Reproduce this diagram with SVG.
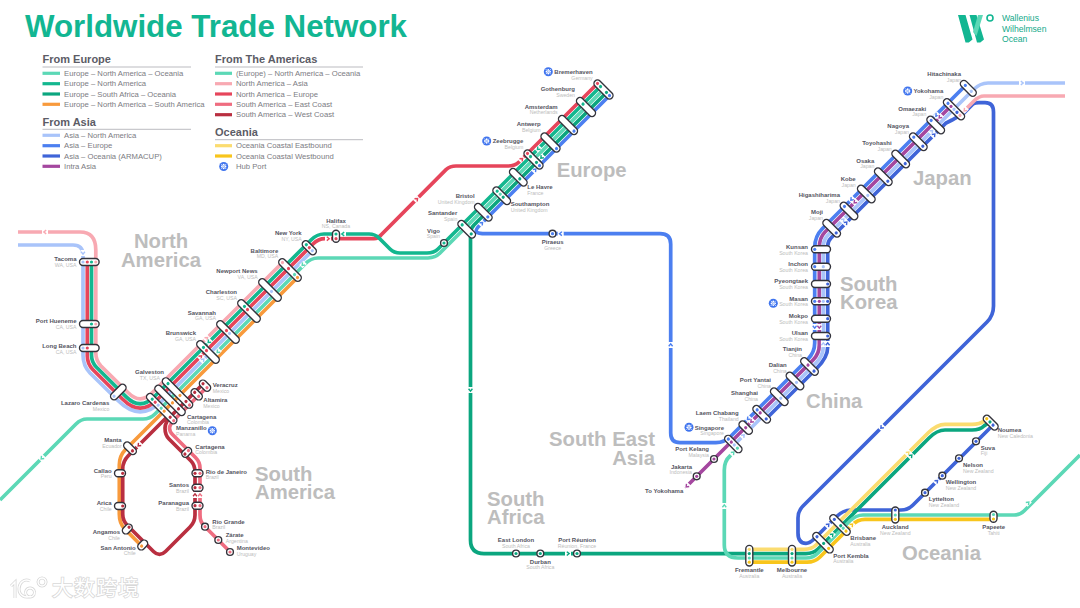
<svg xmlns="http://www.w3.org/2000/svg" width="1080" height="608" viewBox="0 0 1080 608">
<style>
text{font-family:"Liberation Sans",Arial,sans-serif}
.title{font-size:31.300px;font-weight:700;fill:#12b692}
.h{font-size:11px;font-weight:700;fill:#5c5c66}
.l{font-size:7.7px;fill:#7b7b82}
.r{font-size:20.3px;font-weight:700;fill:#bdbdbd}
.n{font-size:6px;font-weight:700;fill:#55555f}
.s{font-size:5.2px;fill:#bcbcbc}
.e{text-anchor:end}
.m{text-anchor:middle}
.logo{font-size:8.6px;fill:#12a98a}
.rule{stroke:#aaaab0;stroke-width:.8}
.ln{fill:none;stroke-width:3.7;stroke-linecap:butt}
.sw{stroke-width:3.2}
.c rect{fill:#fff;stroke:#33333b;stroke-width:1.4}
.c circle.o{fill:#fff;stroke:#33333b;stroke-width:1.4}
.pink{stroke:#f8a9b2;color:#f8a9b2}
.ltblue{stroke:#a9c4fa;color:#a9c4fa}
.red{stroke:#e6455b;color:#e6455b}
.green{stroke:#13b78f;color:#13b78f}
.dkgreen{stroke:#0ba67f;color:#0ba67f}
.teal{stroke:#5cd8b6;color:#5cd8b6}
.orange{stroke:#f89a3c;color:#f89a3c}
.blue{stroke:#4c7ff0;color:#4c7ff0}
.dkblue{stroke:#3f64d8;color:#3f64d8}
.purple{stroke:#a4479f;color:#a4479f}
.ered{stroke:#ef6d80;color:#ef6d80}
.dkred{stroke:#b92f40;color:#b92f40}
.ltyel{stroke:#fbdc70;color:#fbdc70}
.yel{stroke:#f8c51c;color:#f8c51c}
.fpink{fill:#f8a9b2}.fltblue{fill:#a9c4fa}.fred{fill:#e6455b}.fgreen{fill:#13b78f}.fdkgreen{fill:#0ba67f}.fteal{fill:#5cd8b6}.forange{fill:#f89a3c}.fblue{fill:#4c7ff0}.fdkblue{fill:#3f64d8}.fpurple{fill:#a4479f}.fered{fill:#ef6d80}.fdkred{fill:#b92f40}.fltyel{fill:#fbdc70}.fyel{fill:#f8c51c}
.wm{font-family:"Liberation Sans","Noto Sans CJK SC",sans-serif;font-size:21px;fill:#fff;stroke:#d8d8d8;stroke-width:1.6px;paint-order:stroke;letter-spacing:1px}
</style>
<defs>
<g id="a"><rect x="-3" y="-2.4" width="6" height="4.8" fill="#fff" stroke="none"/><path d="M-1.2-1.9L1.2 0L-1.2 1.9" fill="none" stroke="currentColor" stroke-width="1.4"/></g>
<g id="hub"><circle r="4.5" fill="#3f74ee"/><path d="M-2.6-2.6L2.6 2.6M-2.6 2.6L2.6-2.6" stroke="#fff" stroke-width=".7"/><circle cx="-1.8" r=".9" fill="#fff"/><circle cx="1.8" r=".9" fill="#fff"/><circle cy="-1.8" r=".9" fill="#fff"/><circle cy="1.8" r=".9" fill="#fff"/></g>
</defs>

<text class="title" x="25" y="36.7">Worldwide Trade Network</text>

<g id="brand">
<path d="M958 15h7.5l7 24.500-3.700 3h-3.300zM969.500 15h7l7.500 24.500-3.700 3h-3.300z" fill="#12b692"/>
<path d="M973 32l5-17h5l-6.500 21z" fill="#5cd8b6"/>
<circle cx="990" cy="18" r="3" fill="none" stroke="#12b692" stroke-width="1.6"/>
<text class="logo" x="1002" y="21">Wallenius</text>
<text class="logo" x="1002" y="32">Wilhelmsen</text>
<text class="logo" x="1002" y="42">Ocean</text>
</g>

<g id="legend">
<text class="h" x="42.500" y="63.300">From Europe</text><line class="rule" x1="42.500" y1="67" x2="191" y2="67"/>
<line class="ln sw teal" x1="42.500" y1="73.300" x2="60" y2="73.300"/><text class="l" x="64" y="76">Europe – North America – Oceania</text>
<line class="ln sw green" x1="42.500" y1="83.700" x2="60" y2="83.700"/><text class="l" x="64" y="86.400">Europe – North America</text>
<line class="ln sw dkgreen" x1="42.500" y1="94" x2="60" y2="94"/><text class="l" x="64" y="96.700">Europe – South Africa – Oceania</text>
<line class="ln sw orange" x1="42.500" y1="104.300" x2="60" y2="104.300"/><text class="l" x="64" y="107">Europe – North America – South America</text>
<text class="h" x="42.500" y="125.700">From Asia</text><line class="rule" x1="42.500" y1="129.300" x2="191" y2="129.300"/>
<line class="ln sw ltblue" x1="42.500" y1="135.300" x2="60" y2="135.300"/><text class="l" x="64" y="138">Asia – North America</text>
<line class="ln sw blue" x1="42.500" y1="145.700" x2="60" y2="145.700"/><text class="l" x="64" y="148.400">Asia – Europe</text>
<line class="ln sw dkblue" x1="42.500" y1="156" x2="60" y2="156"/><text class="l" x="64" y="158.700">Asia – Oceania (ARMACUP)</text>
<line class="ln sw purple" x1="42.500" y1="166.300" x2="60" y2="166.300"/><text class="l" x="64" y="169">Intra Asia</text>
<text class="h" x="215" y="63.300">From The Americas</text><line class="rule" x1="215" y1="67" x2="363" y2="67"/>
<line class="ln sw teal" x1="215" y1="73.300" x2="232" y2="73.300"/><text class="l" x="236" y="76">(Europe) – North America – Oceania</text>
<line class="ln sw pink" x1="215" y1="83.700" x2="232" y2="83.700"/><text class="l" x="236" y="86.400">North America – Asia</text>
<line class="ln sw red" x1="215" y1="94" x2="232" y2="94"/><text class="l" x="236" y="96.700">North America – Europe</text>
<line class="ln sw ered" x1="215" y1="104.300" x2="232" y2="104.300"/><text class="l" x="236" y="107">South America – East Coast</text>
<line class="ln sw dkred" x1="215" y1="114.700" x2="232" y2="114.700"/><text class="l" x="236" y="117.400">South America – West Coast</text>
<text class="h" x="215" y="136">Oceania</text><line class="rule" x1="215" y1="139.700" x2="363" y2="139.700"/>
<line class="ln sw ltyel" x1="215" y1="145.700" x2="232" y2="145.700"/><text class="l" x="236" y="148.400">Oceania Coastal Eastbound</text>
<line class="ln sw yel" x1="215" y1="156" x2="232" y2="156"/><text class="l" x="236" y="158.700">Oceania Coastal Westbound</text>
<use href="#hub" transform="translate(223.700,166.500)"/><text class="l" x="236" y="169">Hub Port</text>
</g>

<g id="regions">
<text class="r m" x="161" y="248">North</text><text class="r m" x="161" y="266.700">America</text>
<text class="r" x="556.700" y="176.700">Europe</text>
<text class="r" x="913" y="185">Japan</text>
<text class="r" x="840" y="290.700">South</text><text class="r" x="840" y="308.500">Korea</text>
<text class="r" x="806" y="408">China</text>
<text class="r e" x="655" y="446">South East</text><text class="r e" x="655" y="465">Asia</text>
<text class="r" x="487" y="506">South</text><text class="r" x="487" y="524">Africa</text>
<text class="r" x="255" y="481">South</text><text class="r" x="255" y="499">America</text>
<text class="r" x="902" y="560">Oceania</text>
</g>

<g id="connectors">
<path class="ln pink" d="M18 232L80 232Q95.800 232 95.800 250L95.800 353Q95.800 360.500 101 366L128.200 392.800Q140.200 404.800 152.200 392.800L285 260"/>
<path class="ln ltblue" d="M18 245L73 245Q83 245 83 255L83 355Q83 365.700 90 373L118.200 400.800Q140.200 422.800 162.200 400.800L312 251"/>
<path class="ln red" d="M87.300 262L87.300 356Q87.300 364 93 369.700L122.700 399.300Q140.200 416.800 157.700 399.300L313 244Q318.300 238.700 325 238.700L374 238.700Q378 238.700 381 235L446 169.700Q450 166 456 166L508 166Q515 166 519 162L597 84"/>
<path class="ln green" d="M91.500 262L91.500 355Q91.500 362.200 96.500 367.200L126.200 396.900Q140.200 410.800 154.200 396.800L311 240Q317 234 324 234L369 234Q375 234 379 238L390 249Q394 253 400 253L427 253Q434 253 438 249L601 86"/>
<path class="ln teal" d="M0 500L76 424Q81 419 87 419L143 419Q150 419 155 414L305 264Q311 258 318 258L428 258Q435.300 257.700 440 253L604 89"/>
<path class="ln orange" d="M298 277L125.300 449.700Q119.300 455.700 119.300 465L119.300 514Q119.300 523.600 125 529.300L141.700 546"/>
<path class="ln dkred" d="M205 382L172 415Q165 422 165 428Q165 435 169 439L191 461Q195 465 195 472L195 515Q195 522 190 527L165.500 551.500Q159.500 557.500 153.500 551.500L127.500 525.500Q122.700 520.700 122.700 514L122.700 469Q122.700 461.300 128.500 455.500L171 413"/>
<path class="ln ered" d="M208 386L176.500 417.500Q169.500 424.500 169.500 428Q169.500 431.500 172.500 434.500L195.500 457.500Q200 462 200 468L200 515Q200 521.700 204 525.700L230 551.700"/>
<path class="ln blue" d="M965.700 85.300L822.500 228.500Q814.700 236.300 814.700 247.500L814.700 343Q814.700 352.300 808 359L731 436Q724.300 442.700 716 442.700L680 442.700Q670.700 442.700 670.700 433L670.700 244Q670.700 233.700 660 233.700L486 233.700C476 233.700 473 232 480 225L609.300 95.700"/>
<path class="ln purple" d="M685 488L813 360Q819.300 353.700 819.300 345L819.300 248Q819.300 237.700 825 232L951.500 105.500"/>
<path class="ln ltblue" d="M735 444L815.500 363.500Q823.300 355.700 823.300 347L823.300 247Q823.300 239.700 828 235L973 90Q980 83 988 83L1065 83"/>
<path class="ln dkblue" d="M766.700 418.300L817 368Q827.700 357.300 827.700 347L827.700 246Q827.700 241.300 831 238L946 123L952 120L964 113L973 104Q975 102.700 979 102.700L985 102.700Q993.500 102.700 993.500 112L993.500 306Q993.500 315.500 987 322L803 506Q798 511 798 518L798 533Q798 543.300 806 543.300Q809.700 543.300 814 539L836 517Q843 510 851 510L901 510Q908 510 913 505L993.300 424.700"/>
<path class="ln pink" d="M1065 96L984 96Q979 96 974 101L960 115"/>
<path class="ln dkgreen" d="M606 93L474 225Q470.500 228.500 470.500 233L470.500 540Q470.500 553.600 484 553.600L806 553.600Q813.400 553.600 818 549L929 438Q937 430 945 430L972 430Q980 430 984 426L990.500 421.500"/>
<path class="ln teal" d="M737 449L730 456Q724.300 461 724.300 470L724.300 545Q724.300 558 738 558L806 558Q813 558 818 553L850 521Q856 515 863 515L1014 515Q1020 515 1024 511L1080 455"/>
<path class="ln ltyel" d="M749 549.300L804 549.300Q811.700 549.300 816 545L928 433Q937 424.300 945 424.300L972 424.300Q980 424.300 984 421L987.300 418.300"/>
<path class="ln yel" d="M749 562.200L807 562.200Q814.800 562.200 820 557L852 525Q857.700 519.300 865 519.300L993.500 519.300"/>
<use href="#a" class="pink" transform="translate(45,232) rotate(180)"/>
<use href="#a" class="ltblue" transform="translate(83,253) rotate(90)"/>
<use href="#a" class="pink" transform="translate(206.700,338.300) rotate(-45)"/>
<use href="#a" class="green" transform="translate(209,341.700) rotate(135)"/>
<use href="#a" class="red" transform="translate(200.700,356.700) rotate(-45)"/>
<use href="#a" class="ltblue" transform="translate(203,360) rotate(-45)"/>
<use href="#a" class="teal" transform="translate(218,351.700) rotate(135)"/>
<use href="#a" class="teal" transform="translate(303,264.500) rotate(135)"/>
<use href="#a" class="red" transform="translate(328,238.700)"/>
<use href="#a" class="green" transform="translate(343,234) rotate(180)"/>
<use href="#a" class="red" transform="translate(416.700,199.300) rotate(-45)"/>
<use href="#a" class="teal" transform="translate(42,458) rotate(135)"/>
<use href="#a" class="dkred" transform="translate(139,445) rotate(135)"/>
<use href="#a" class="dkred" transform="translate(195,495) rotate(-90)"/>
<use href="#a" class="ered" transform="translate(200,495) rotate(-90)"/>
<use href="#a" class="red" transform="translate(521.700,159.300) rotate(-45)"/>
<use href="#a" class="blue" transform="translate(535,170) rotate(-45)"/>
<use href="#a" class="green" transform="translate(538.300,148.700) rotate(135)"/>
<use href="#a" class="dkgreen" transform="translate(541.700,157.300) rotate(135)"/>
<use href="#a" class="blue" transform="translate(481.700,223.300) rotate(-45)"/>
<use href="#a" class="blue" transform="translate(560.700,233.700) rotate(180)"/>
<use href="#a" class="blue" transform="translate(670.700,345) rotate(-90)"/>
<use href="#a" class="dkgreen" transform="translate(470.500,390) rotate(90)"/>
<use href="#a" class="dkgreen" transform="translate(568,553.600)"/>
<use href="#a" class="ltblue" transform="translate(1022,83)"/>
<use href="#a" class="pink" transform="translate(965,110) rotate(135)"/>
<use href="#a" class="blue" transform="translate(936.700,115.300) rotate(135)"/>
<use href="#a" class="purple" transform="translate(940,117) rotate(135)"/>
<use href="#a" class="ltblue" transform="translate(931.700,131.300) rotate(-45)"/>
<use href="#a" class="dkblue" transform="translate(934,135) rotate(-45)"/>
<use href="#a" class="blue" transform="translate(851.700,199.300) rotate(135)"/>
<use href="#a" class="purple" transform="translate(855,202) rotate(135)"/>
<use href="#a" class="ltblue" transform="translate(843,220) rotate(-45)"/>
<use href="#a" class="dkblue" transform="translate(846,223) rotate(-45)"/>
<use href="#a" class="blue" transform="translate(814.700,327) rotate(90)"/>
<use href="#a" class="purple" transform="translate(819.300,327) rotate(90)"/>
<use href="#a" class="ltblue" transform="translate(823.300,344) rotate(-90)"/>
<use href="#a" class="dkblue" transform="translate(827.700,344) rotate(-90)"/>
<use href="#a" class="blue" transform="translate(748.300,418.700) rotate(135)"/>
<use href="#a" class="purple" transform="translate(751.700,421.300) rotate(135)"/>
<use href="#a" class="ltblue" transform="translate(743.300,435.700) rotate(-45)"/>
<use href="#a" class="teal" transform="translate(733,453) rotate(-45)"/>
<use href="#a" class="purple" transform="translate(687,486) rotate(135)"/>
<use href="#a" class="teal" transform="translate(724.300,506) rotate(-90)"/>
<use href="#a" class="dkblue" transform="translate(828,525) rotate(-45)"/>
<use href="#a" class="dkgreen" transform="translate(832,535) rotate(-45)"/>
<use href="#a" class="yel" transform="translate(851.700,525) rotate(-45)"/>
<use href="#a" class="ltyel" transform="translate(908,453) rotate(-45)"/>
<use href="#a" class="dkgreen" transform="translate(911,456) rotate(-45)"/>
<use href="#a" class="dkblue" transform="translate(881.700,427.300) rotate(135)"/>
<use href="#a" class="dkblue" transform="translate(936.700,481.300) rotate(-45)"/>
<use href="#a" class="teal" transform="translate(1028,503) rotate(-45)"/>
</g>

<g id="nodes">
<g id="n-tacoma" class="c"><g transform="translate(89.300,262)"><rect x="-9.800" y="-3.500" width="19.600" height="7" rx="3.500"/><circle class="fltblue" cx="-6.300" r="1.600"/><circle class="fred" cx="-2" r="1.600"/><circle class="fgreen" cx="2.200" r="1.600"/><circle class="fpink" cx="6.500" r="1.600"/></g><text class="n e" x="76.500" y="261.400">Tacoma</text><text class="s e" x="76.500" y="267">WA, USA</text></g>
<g id="n-hueneme" class="c"><g transform="translate(89.300,324)"><rect x="-9.800" y="-3.500" width="19.600" height="7" rx="3.500"/><circle class="fgreen" cx="2.200" r="1.600"/><circle class="fpink" cx="6.500" r="1.600"/></g><text class="n e" x="76.500" y="323.400">Port Hueneme</text><text class="s e" x="76.500" y="329">CA, USA</text></g>
<g id="n-longbeach" class="c"><g transform="translate(89.300,348)"><rect x="-9.800" y="-3.500" width="19.600" height="7" rx="3.500"/><circle class="fltblue" cx="-6.300" r="1.600"/><circle class="fred" cx="-2" r="1.600"/></g><text class="n e" x="76.500" y="348">Long Beach</text><text class="s e" x="76.500" y="353.600">CA, USA</text></g>
<g id="n-lazaro" class="c"><g transform="translate(118.300,392) rotate(-45)"><rect x="-9.500" y="-3.500" width="19" height="7" rx="3.500"/><circle class="fltblue" cx="-6" r="1.600"/></g><text class="n e" x="109.300" y="405.400">Lazaro Cardenas</text><text class="s e" x="109.300" y="411">Mexico</text></g>
<g id="n-galveston" class="c"><g transform="translate(177.500,393) rotate(45)"><rect x="-20" y="-3.500" width="40" height="7" rx="3.500"/><circle class="fgreen" cx="-13.400" r="1.600"/><circle class="forange" cx="3.500" r="1.600"/><circle class="fdkred" cx="12" r="1.600"/><circle class="fered" cx="17" r="1.600"/></g><text class="n e" x="164" y="374.400">Galveston</text><text class="s e" x="160" y="380">TX, USA</text></g>
<g id="n-manzanillo" class="c"><g transform="translate(170,400.300) rotate(45)"><rect x="-20" y="-3.500" width="40" height="7" rx="3.500"/><circle class="forange" cx="3.500" r="1.600"/><circle class="fdkred" cx="12" r="1.600"/></g><text class="n" x="176" y="430.400">Manzanillo</text><text class="s" x="176" y="436">Panama</text><use href="#hub" transform="translate(212.300,430.700)"/></g>
<g id="n-cartagena1" class="c"><g transform="translate(161.700,408.700) rotate(45)"><rect x="-20" y="-3.500" width="40" height="7" rx="3.500"/><circle class="fgreen" cx="-13.400" r="1.600"/><circle class="fred" cx="-9.200" r="1.600"/><circle class="fltblue" cx="-5" r="1.600"/><circle class="fteal" cx="-.7" r="1.600"/><circle class="forange" cx="3.500" r="1.600"/><circle class="fdkred" cx="12" r="1.600"/><circle class="fered" cx="17" r="1.600"/></g><text class="n" x="187" y="418.800">Cartagena</text><text class="s" x="187" y="424.400">Colombia</text></g>
<g id="n-veracruz" class="c"><g transform="translate(205,385.700) rotate(45)"><rect x="-6.500" y="-3.500" width="13" height="7" rx="3.500"/><circle class="fdkred" cx="-2.800" r="1.600"/><circle class="fered" cx="2.800" r="1.600"/></g><text class="n" x="212.700" y="387.400">Veracruz</text><text class="s" x="212.700" y="393">Mexico</text></g>
<g id="n-altamira" class="c"><g transform="translate(196.700,394.300) rotate(45)"><rect x="-6.500" y="-3.500" width="13" height="7" rx="3.500"/><circle class="fdkred" cx="-2.800" r="1.600"/><circle class="fered" cx="2.800" r="1.600"/></g><text class="n" x="203.300" y="402.100">Altamira</text><text class="s" x="203.300" y="407.700">Mexico</text></g>
<g id="n-manta" class="c"><g transform="translate(130,448.300) rotate(45)"><rect x="-7.500" y="-3.500" width="15" height="7" rx="3.500"/><circle class="fdkred" cx="3.500" r="1.600"/></g><text class="n e" x="121.700" y="442.400">Manta</text><text class="s e" x="121.700" y="448">Ecuador</text></g>
<g id="n-callao" class="c"><g transform="translate(120,473.300)"><rect x="-5.500" y="-3.500" width="11" height="7" rx="3.500"/><circle class="fdkred" cx="2.700" r="1.600"/></g><text class="n e" x="111.700" y="472.800">Callao</text><text class="s e" x="111.700" y="478.400">Peru</text></g>
<g id="n-arica" class="c"><g transform="translate(120,506)"><rect x="-5.500" y="-3.500" width="11" height="7" rx="3.500"/><circle class="fdkred" cx="2.700" r="1.600"/></g><text class="n e" x="111.700" y="505.400">Arica</text><text class="s e" x="111.700" y="511">Chile</text></g>
<g id="n-angamos" class="c"><g transform="translate(127.300,529) rotate(-45)"><rect x="-5.500" y="-3.500" width="11" height="7" rx="3.500"/><circle class="fdkred" cx="2.500" r="1.600"/></g><text class="n e" x="120" y="534.400">Angamos</text><text class="s e" x="120" y="540">Chile</text></g>
<g id="n-sanantonio" class="c"><g transform="translate(142.700,545) rotate(-45)"><rect x="-5.500" y="-3.500" width="11" height="7" rx="3.500"/><circle class="forange" cx="-1.500" r="1.600"/></g><text class="n e" x="135.700" y="549.800">San Antonio</text><text class="s e" x="135.700" y="555.400">Chile</text></g>
<g id="n-cartagena2" class="c"><g transform="translate(186.700,452.300) rotate(-45)"><rect x="-5.500" y="-3.500" width="11" height="7" rx="3.500"/><circle class="fdkred" cx="-2.500" r="1.600"/><circle class="fered" cx="2.500" r="1.600"/></g><text class="n" x="195.300" y="448.800">Cartagena</text><text class="s" x="195.300" y="454.400">Colombia</text></g>
<g id="n-rio" class="c"><g transform="translate(197.500,473.300)"><rect x="-5.500" y="-3.500" width="11" height="7" rx="3.500"/><circle class="fdkred" cx="-2.500" r="1.600"/><circle class="fered" cx="2.500" r="1.600"/></g><text class="n" x="205.700" y="473.800">Rio de Janeiro</text><text class="s" x="205.700" y="479.400">Brazil</text></g>
<g id="n-santos" class="c"><g transform="translate(197.500,487.700)"><rect x="-5.500" y="-3.500" width="11" height="7" rx="3.500"/><circle class="fdkred" cx="-2.500" r="1.600"/><circle class="fered" cx="2.500" r="1.600"/></g><text class="n e" x="189" y="487.400">Santos</text><text class="s e" x="189" y="493">Brazil</text></g>
<g id="n-paranagua" class="c"><g transform="translate(197.500,505.700)"><rect x="-5.500" y="-3.500" width="11" height="7" rx="3.500"/><circle class="fdkred" cx="-2.500" r="1.600"/><circle class="fered" cx="2.500" r="1.600"/></g><text class="n e" x="189" y="505.400">Paranagua</text><text class="s e" x="189" y="511">Brazil</text></g>
<g id="n-riogrande" class="c"><circle class="o" cx="205" cy="526.700" r="3.400"/><circle class="fered" cx="205" cy="526.700" r="1.600"/><text class="n" x="212.300" y="523.800">Rio Grande</text><text class="s" x="212.300" y="529.400">Brazil</text></g>
<g id="n-zarate" class="c"><circle class="o" cx="218.300" cy="540" r="3.400"/><circle class="fered" cx="218.300" cy="540" r="1.600"/><text class="n" x="225.700" y="537.100">Zárate</text><text class="s" x="225.700" y="542.700">Argentina</text></g>
<g id="n-montevideo" class="c"><circle class="o" cx="230" cy="552" r="3.400"/><circle class="fered" cx="230" cy="552" r="1.600"/><text class="n" x="236.700" y="550.400">Montevideo</text><text class="s" x="236.700" y="556">Uruguay</text></g>

<g id="n-brunswick" class="c"><g transform="translate(208,352) rotate(45)"><rect x="-14.500" y="-3.500" width="29" height="7" rx="3.500"/><circle class="fgreen" cx="-6.400" r="1.600"/><circle class="fred" cx="-2.100" r="1.600"/></g><text class="n e" x="196" y="335.400">Brunswick</text><text class="s e" x="196" y="341">GA, USA</text></g>
<g id="n-savannah" class="c"><g transform="translate(228,332) rotate(45)"><rect x="-14.500" y="-3.500" width="29" height="7" rx="3.500"/><circle class="fred" cx="-2.100" r="1.600"/><circle class="fltblue" cx="2.100" r="1.600"/></g><text class="n e" x="216" y="314.800">Savannah</text><text class="s e" x="216" y="320.400">GA, USA</text></g>
<g id="n-charleston" class="c"><g transform="translate(249,311) rotate(45)"><rect x="-14.500" y="-3.500" width="29" height="7" rx="3.500"/><circle class="fgreen" cx="-6.400" r="1.600"/><circle class="fred" cx="-2.100" r="1.600"/></g><text class="n e" x="237" y="294.100">Charleston</text><text class="s e" x="237" y="299.700">SC, USA</text></g>
<g id="n-newport" class="c"><g transform="translate(270,290) rotate(45)"><rect x="-14.500" y="-3.500" width="29" height="7" rx="3.500"/><circle class="fltblue" cx="2.100" r="1.600"/></g><text class="n e" x="257.700" y="273.400">Newport News</text><text class="s e" x="257.700" y="279">VA, USA</text></g>
<g id="n-baltimore" class="c"><g transform="translate(290,270) rotate(45)"><rect x="-14.500" y="-3.500" width="29" height="7" rx="3.500"/><circle class="fpink" cx="-10.600" r="1.600"/><circle class="fred" cx="-2.100" r="1.600"/><circle class="fteal" cx="6.400" r="1.600"/><circle class="forange" cx="10.600" r="1.600"/></g><text class="n e" x="278.300" y="252.800">Baltimore</text><text class="s e" x="278.300" y="258.400">MD, USA</text></g>
<g id="n-newyork" class="c"><g transform="translate(309.300,247.700) rotate(45)"><rect x="-8.500" y="-3.500" width="17" height="7" rx="3.500"/><circle class="fgreen" cx="-4.200" r="1.600"/><circle class="fred" r="1.600"/><circle class="fltblue" cx="4.200" r="1.600"/></g><text class="n e" x="301.700" y="235.400">New York</text><text class="s e" x="301.700" y="241">NY, USA</text></g>
<g id="n-halifax" class="c"><g transform="translate(336,236.300)"><rect x="-3.500" y="-6" width="7" height="12" rx="3.500"/><circle class="fgreen" cy="-2.300" r="1.600"/><circle class="fred" cy="2.400" r="1.600"/></g><text class="n m" x="336" y="222.800">Halifax</text><text class="s m" x="336" y="228.400">NS, Canada</text></g>

<g id="n-vigo" class="c"><circle class="o" cx="444" cy="243" r="3.400"/><circle class="fgreen" cx="444" cy="243" r="1.600"/><text class="n e" x="440" y="232.800">Vigo</text><text class="s e" x="440" y="238.400">Spain</text></g>
<g id="n-santander" class="c"><g transform="translate(466.700,229.300) rotate(45)"><rect x="-11" y="-3.500" width="22" height="7" rx="3.500"/><circle class="fgreen" cx="-6.400" r="1.600"/><circle class="fdkgreen" cx="6.400" r="1.600"/></g><text class="n e" x="457.300" y="215.400">Santander</text><text class="s e" x="457.300" y="221">Spain</text></g>
<g id="n-bristol" class="c"><g transform="translate(483.300,212.300) rotate(45)"><rect x="-11" y="-3.500" width="22" height="7" rx="3.500"/><circle class="fblue" cx="6.400" r="1.600"/></g><text class="n e" x="474.700" y="198.100">Bristol</text><text class="s e" x="474.700" y="203.700">United Kingdom</text></g>
<g id="n-southampton" class="c"><g transform="translate(501.700,195.700) rotate(45)"><rect x="-11" y="-3.500" width="22" height="7" rx="3.500"/><circle class="fgreen" cx="-6.400" r="1.600"/><circle class="fteal" cx="-2.100" r="1.600"/><circle class="fdkgreen" cx="2.100" r="1.600"/></g><text class="n" x="510.700" y="206.100">Southampton</text><text class="s" x="510.700" y="211.700">United Kingdom</text></g>
<g id="n-lehavre" class="c"><g transform="translate(518.300,177.300) rotate(45)"><rect x="-11" y="-3.500" width="22" height="7" rx="3.500"/><circle class="fdkgreen" cx="2.100" r="1.600"/></g><text class="n" x="527.300" y="189.400">Le Havre</text><text class="s" x="527.300" y="195">France</text></g>
<g id="n-zeebrugge" class="c"><g transform="translate(533.500,159.500) rotate(45)"><rect x="-12" y="-3.500" width="24" height="7" rx="3.500"/><circle class="fred" cx="-8.500" r="1.600"/><circle class="fgreen" cx="-4.200" r="1.600"/><circle class="fdkgreen" cx="4.200" r="1.600"/><circle class="fblue" cx="8.500" r="1.600"/></g><use href="#hub" transform="translate(486.700,141)"/><text class="n e" x="523.300" y="143.100">Zeebrugge</text><text class="s e" x="523.300" y="148.700">Belgium</text></g>
<g id="n-antwerp" class="c"><g transform="translate(550.500,142.500) rotate(45)"><rect x="-12" y="-3.500" width="24" height="7" rx="3.500"/><circle class="fblue" cx="8.500" r="1.600"/></g><text class="n e" x="540.700" y="126.100">Antwerp</text><text class="s e" x="540.700" y="131.700">Belgium</text></g>
<g id="n-amsterdam" class="c"><g transform="translate(568,125) rotate(45)"><rect x="-12" y="-3.500" width="24" height="7" rx="3.500"/><circle class="fblue" cx="8.500" r="1.600"/></g><text class="n e" x="557.700" y="108.800">Amsterdam</text><text class="s e" x="557.700" y="114.400">Netherlands</text></g>
<g id="n-gothenburg" class="c"><g transform="translate(586,107) rotate(45)"><rect x="-12" y="-3.500" width="24" height="7" rx="3.500"/><circle class="fgreen" cx="-4.200" r="1.600"/></g><text class="n e" x="575" y="91.400">Gothenburg</text><text class="s e" x="575" y="97">Sweden</text></g>
<g id="n-bremerhaven" class="c"><g transform="translate(603.500,89.500) rotate(45)"><rect x="-12" y="-3.500" width="24" height="7" rx="3.500"/><circle class="fred" cx="-8.500" r="1.600"/><circle class="fgreen" cx="-4.200" r="1.600"/><circle class="fdkgreen" cx="4.200" r="1.600"/><circle class="fblue" cx="8.500" r="1.600"/></g><use href="#hub" transform="translate(548.300,71.700)"/><text class="n" x="554.300" y="74.400">Bremerhaven</text><text class="s e" x="592.700" y="80">Germany</text></g>
<g id="n-piraeus" class="c"><circle class="o" cx="552.500" cy="233.700" r="3.400"/><circle class="fblue" cx="552.500" cy="233.700" r="1.600"/><text class="n m" x="552.700" y="244.400">Piraeus</text><text class="s m" x="552.700" y="250">Greece</text></g>
<g id="n-eastlondon" class="c"><circle class="o" cx="516" cy="553.500" r="3.400"/><circle class="fdkgreen" cx="516" cy="553.500" r="1.600"/><text class="n m" x="516" y="542.100">East London</text><text class="s m" x="516" y="547.700">South Africa</text></g>
<g id="n-durban" class="c"><circle class="o" cx="540.300" cy="553.500" r="3.400"/><circle class="fdkgreen" cx="540.300" cy="553.500" r="1.600"/><text class="n m" x="540.300" y="563.800">Durban</text><text class="s m" x="540.300" y="569.400">South Africa</text></g>
<g id="n-reunion" class="c"><circle class="o" cx="577" cy="553.500" r="3.400"/><circle class="fdkgreen" cx="577" cy="553.500" r="1.600"/><text class="n m" x="577" y="542.100">Port Réunion</text><text class="s m" x="577" y="547.700">Réunion, France</text></g>

<g id="n-hitachinaka" class="c"><g transform="translate(968.300,88.300) rotate(45)"><rect x="-9.800" y="-3.500" width="19.600" height="7" rx="3.500"/><circle class="fblue" cx="-4.200" r="1.600"/><circle class="fltblue" cx="4.200" r="1.600"/></g><text class="n e" x="961" y="76.100">Hitachinaka</text><text class="s e" x="961" y="81.700">Japan</text></g>
<g id="n-yokohama" class="c"><g transform="translate(954,109.300) rotate(45)"><rect x="-13.500" y="-3.500" width="27" height="7" rx="3.500"/><circle class="fblue" cx="-8.500" r="1.600"/><circle class="fpurple" cx="-4.200" r="1.600"/><circle class="fltblue" r="1.600"/><circle class="fdkblue" cx="4.200" r="1.600"/><circle class="fpink" cx="8.500" r="1.600"/></g><use href="#hub" transform="translate(907.700,91)"/><text class="n e" x="943.300" y="93.400">Yokohama</text><text class="s e" x="943.300" y="99">Japan</text></g>
<g id="n-omaezaki" class="c"><g transform="translate(935.700,125) rotate(45)"><rect x="-11" y="-3.500" width="22" height="7" rx="3.500"/><circle class="fblue" cx="-6.400" r="1.600"/></g><text class="n e" x="926.300" y="110.800">Omaezaki</text><text class="s e" x="926.300" y="116.400">Japan</text></g>
<g id="n-nagoya" class="c"><g transform="translate(918.300,141.700) rotate(45)"><rect x="-11" y="-3.500" width="22" height="7" rx="3.500"/><circle class="fblue" cx="-6.400" r="1.600"/><circle class="fdkblue" cx="6.400" r="1.600"/></g><text class="n e" x="909" y="128.100">Nagoya</text><text class="s e" x="909" y="133.700">Japan</text></g>
<g id="n-toyohashi" class="c"><g transform="translate(900.700,159) rotate(45)"><rect x="-11" y="-3.500" width="22" height="7" rx="3.500"/><circle class="fdkblue" cx="6.400" r="1.600"/></g><text class="n e" x="891.700" y="145.400">Toyohashi</text><text class="s e" x="891.700" y="151">Japan</text></g>
<g id="n-osaka" class="c"><g transform="translate(883.300,176.700) rotate(45)"><rect x="-11" y="-3.500" width="22" height="7" rx="3.500"/><circle class="fdkblue" cx="6.400" r="1.600"/></g><text class="n e" x="874.300" y="162.800">Osaka</text><text class="s e" x="874.300" y="168.400">Japan</text></g>
<g id="n-kobe" class="c"><g transform="translate(866.300,194) rotate(45)"><rect x="-11" y="-3.500" width="22" height="7" rx="3.500"/><circle class="fltblue" cx="2.100" r="1.600"/></g><text class="n e" x="855.700" y="181.400">Kobe</text><text class="s e" x="855.700" y="187">Japan</text></g>
<g id="n-higashi" class="c"><g transform="translate(849,211) rotate(45)"><rect x="-11" y="-3.500" width="22" height="7" rx="3.500"/><circle class="fblue" cx="-6.400" r="1.600"/></g><text class="n e" x="840" y="197.100">Higashiharima</text><text class="s e" x="840" y="202.700">Japan</text></g>
<g id="n-moji" class="c"><g transform="translate(831.700,228.300) rotate(45)"><rect x="-11" y="-3.500" width="22" height="7" rx="3.500"/><circle class="fdkblue" cx="6.400" r="1.600"/></g><text class="n e" x="823" y="214.400">Moji</text><text class="s e" x="823" y="220">Japan</text></g>
<g id="n-kunsan" class="c"><g transform="translate(821,249.300)"><rect x="-9.500" y="-3.500" width="19" height="7" rx="3.500"/><circle class="fblue" cx="-6.300" r="1.600"/></g><text class="n e" x="808" y="249.100">Kunsan</text><text class="s e" x="808" y="254.700">South Korea</text></g>
<g id="n-inchon" class="c"><g transform="translate(821,266.700)"><rect x="-9.500" y="-3.500" width="19" height="7" rx="3.500"/><circle class="fblue" cx="-6.300" r="1.600"/><circle class="fltblue" cx="2.300" r="1.600"/></g><text class="n e" x="808" y="266.100">Inchon</text><text class="s e" x="808" y="271.700">South Korea</text></g>
<g id="n-pyeongtaek" class="c"><g transform="translate(821,284)"><rect x="-9.500" y="-3.500" width="19" height="7" rx="3.500"/><circle class="fdkblue" cx="6.700" r="1.600"/></g><text class="n e" x="808" y="283.400">Pyeongtaek</text><text class="s e" x="808" y="289">South Korea</text></g>
<g id="n-masan" class="c"><g transform="translate(821,301.300)"><rect x="-9.500" y="-3.500" width="19" height="7" rx="3.500"/><circle class="fblue" cx="-6.300" r="1.600"/><circle class="fpurple" cx="-1.700" r="1.600"/><circle class="fltblue" cx="2.300" r="1.600"/><circle class="fdkblue" cx="6.700" r="1.600"/></g><use href="#hub" transform="translate(773.300,303.300)"/><text class="n e" x="808" y="300.800">Masan</text><text class="s e" x="808" y="306.400">South Korea</text></g>
<g id="n-mokpo" class="c"><g transform="translate(821,318.700)"><rect x="-9.500" y="-3.500" width="19" height="7" rx="3.500"/><circle class="fdkblue" cx="6.700" r="1.600"/></g><text class="n e" x="808" y="318.100">Mokpo</text><text class="s e" x="808" y="323.700">South Korea</text></g>
<g id="n-ulsan" class="c"><g transform="translate(821,336)"><rect x="-9.500" y="-3.500" width="19" height="7" rx="3.500"/><circle class="fdkblue" cx="6.700" r="1.600"/></g><text class="n e" x="808" y="335.400">Ulsan</text><text class="s e" x="808" y="341">South Korea</text></g>
<g id="n-tianjin" class="c"><g transform="translate(809.500,366.500) rotate(45)"><rect x="-11" y="-3.500" width="22" height="7" rx="3.500"/><circle class="fpurple" cx="-2.100" r="1.600"/><circle class="fdkblue" cx="6.400" r="1.600"/></g><text class="n e" x="802" y="351.400">Tianjin</text><text class="s e" x="802" y="357">China</text></g>
<g id="n-dalian" class="c"><g transform="translate(795,381) rotate(45)"><rect x="-11" y="-3.500" width="22" height="7" rx="3.500"/><circle class="fltblue" cx="2.100" r="1.600"/></g><text class="n e" x="786.700" y="367.100">Dalian</text><text class="s e" x="786.700" y="372.700">China</text></g>
<g id="n-yantai" class="c"><g transform="translate(779.300,396.700) rotate(45)"><rect x="-11" y="-3.500" width="22" height="7" rx="3.500"/><circle class="fltblue" cx="2.100" r="1.600"/></g><text class="n e" x="771" y="382.400">Port Yantai</text><text class="s e" x="771" y="388">China</text></g>
<g id="n-shanghai" class="c"><g transform="translate(761.700,414.300) rotate(45)"><rect x="-11" y="-3.500" width="22" height="7" rx="3.500"/><circle class="fblue" cx="-6.400" r="1.600"/><circle class="fpurple" cx="-2.100" r="1.600"/><circle class="fdkblue" cx="6.400" r="1.600"/></g><text class="n e" x="758" y="395.400">Shanghai</text><text class="s e" x="758" y="401">China</text></g>
<g id="n-laem" class="c"><g transform="translate(745.700,427.700) rotate(45)"><rect x="-8" y="-3.500" width="16" height="7" rx="3.500"/><circle class="fpurple" r="1.600"/></g><text class="n e" x="738.700" y="415.100">Laem Chabang</text><text class="s e" x="738.700" y="420.700">Thailand</text></g>
<g id="n-singapore" class="c"><g transform="translate(733.300,444) rotate(45)"><rect x="-10.800" y="-3.500" width="21.600" height="7" rx="3.500"/><circle class="fblue" cx="-7" r="1.600"/><circle class="fpurple" cx="-2.800" r="1.600"/><circle class="fltblue" cx="1.400" r="1.600"/><circle class="fteal" cx="5.800" r="1.600"/></g><use href="#hub" transform="translate(689,427.300)"/><text class="n e" x="724" y="429.800">Singapore</text><text class="s e" x="724" y="435.400">Singapore</text></g>
<g id="n-portkelang" class="c"><circle class="o" cx="714" cy="459" r="3.400"/><circle class="fpurple" cx="714" cy="459" r="1.600"/><text class="n e" x="709" y="451.100">Port Kelang</text><text class="s e" x="709" y="456.700">Malaysia</text></g>
<g id="n-jakarta" class="c"><circle class="o" cx="696.700" cy="476.300" r="3.400"/><circle class="fpurple" cx="696.700" cy="476.300" r="1.600"/><text class="n e" x="692" y="468.800">Jakarta</text><text class="s e" x="692" y="474.400">Indonesia</text></g>
<text class="n e" x="683.300" y="493.400">To Yokohama</text>

<g id="n-fremantle" class="c"><g transform="translate(749.300,555.700)"><rect x="-3.500" y="-10.300" width="7" height="20.600" rx="3.500"/><circle class="fltyel" cy="-6.400" r="1.600"/><circle class="fdkgreen" cy="-2.100" r="1.600"/><circle class="fteal" cy="2.300" r="1.600"/><circle class="fyel" cy="6.500" r="1.600"/></g><text class="n m" x="749.300" y="572.400">Fremantle</text><text class="s m" x="749.300" y="578">Australia</text></g>
<g id="n-melbourne" class="c"><g transform="translate(792,555.700)"><rect x="-3.500" y="-10.300" width="7" height="20.600" rx="3.500"/><circle class="fltyel" cy="-6.400" r="1.600"/><circle class="fdkgreen" cy="-2.100" r="1.600"/><circle class="fteal" cy="2.300" r="1.600"/><circle class="fyel" cy="6.500" r="1.600"/></g><text class="n m" x="792" y="572.400">Melbourne</text><text class="s m" x="792" y="578">Australia</text></g>
<g id="n-kembla" class="c"><g transform="translate(823,542.700) rotate(45)"><rect x="-13" y="-3.500" width="26" height="7" rx="3.500"/><circle class="fdkblue" cx="-8.500" r="1.600"/><circle class="fdkgreen" cx=".9" r="1.600"/><circle class="fyel" cx="8" r="1.600"/></g><text class="n" x="833.300" y="557.800">Port Kembla</text><text class="s" x="833.300" y="563.400">Australia</text></g>
<g id="n-brisbane" class="c"><g transform="translate(840,525) rotate(45)"><rect x="-13" y="-3.500" width="26" height="7" rx="3.500"/><circle class="fdkblue" cx="-8" r="1.600"/><circle class="fdkgreen" cx="1" r="1.600"/><circle class="fteal" cx="4.500" r="1.600"/><circle class="fyel" cx="8.500" r="1.600"/></g><text class="n" x="850.300" y="540.100">Brisbane</text><text class="s" x="850.300" y="545.700">Australia</text></g>
<g id="n-auckland" class="c"><g transform="translate(895.300,515)"><rect x="-3.500" y="-8" width="7" height="16" rx="3.500"/><circle class="fdkblue" cy="-5" r="1.600"/><circle class="fteal" r="1.600"/><circle class="fyel" cy="4.300" r="1.600"/></g><text class="n m" x="895.300" y="529.400">Auckland</text><text class="s m" x="895.300" y="535">New Zealand</text></g>
<g id="n-papeete" class="c"><g transform="translate(993.500,516.800)"><rect x="-3.500" y="-5.500" width="7" height="11" rx="3.500"/><circle class="fteal" cy="-2.300" r="1.600"/><circle class="fyel" cy="2.200" r="1.600"/></g><text class="n m" x="993.700" y="529.400">Papeete</text><text class="s m" x="993.700" y="535">Tahiti</text></g>
<g id="n-noumea" class="c"><g transform="translate(990.700,422.700) rotate(45)"><rect x="-9" y="-3.500" width="18" height="7" rx="3.500"/><circle class="fyel" cx="-5.600" r="1.600"/><circle class="fdkgreen" cx="-1" r="1.600"/><circle class="fdkblue" cx="3.300" r="1.600"/></g><text class="n" x="997.700" y="432.100">Noumea</text><text class="s" x="997.700" y="437.700">New Caledonia</text></g>
<g id="n-suva" class="c"><circle class="o" cx="976" cy="441.300" r="3.400"/><circle class="fdkblue" cx="976" cy="441.300" r="1.600"/><text class="n" x="980.700" y="449.800">Suva</text><text class="s" x="980.700" y="455.400">Fiji</text></g>
<g id="n-nelson" class="c"><circle class="o" cx="959" cy="458.300" r="3.400"/><circle class="fdkblue" cx="959" cy="458.300" r="1.600"/><text class="n" x="963" y="467.100">Nelson</text><text class="s" x="963" y="472.700">New Zealand</text></g>
<g id="n-wellington" class="c"><circle class="o" cx="942.300" cy="475.700" r="3.400"/><circle class="fdkblue" cx="942.300" cy="475.700" r="1.600"/><text class="n" x="945.700" y="484.400">Wellington</text><text class="s" x="945.700" y="490">New Zealand</text></g>
<g id="n-lyttelton" class="c"><circle class="o" cx="925" cy="492.700" r="3.400"/><circle class="fdkblue" cx="925" cy="492.700" r="1.600"/><text class="n" x="928.700" y="501.400">Lyttelton</text><text class="s" x="928.700" y="507">New Zealand</text></g>
</g>

<g id="watermark">
<path d="M11 586l4-4v16M30 581c-6-3-11 2-11 8s6 10 12 7M30 588a4.500 4.500 0 1 0 .1 0zM42 578a4 4 0 1 0 .1 0z" fill="none" stroke="#d8d8d8" stroke-width="3"/>
<path d="M11 586l4-4v16M30 581c-6-3-11 2-11 8s6 10 12 7M30 588a4.500 4.500 0 1 0 .1 0zM42 578a4 4 0 1 0 .1 0z" fill="none" stroke="#fff" stroke-width="1.400"/>
<text class="wm" x="52" y="595">大数跨境</text>
</g>
</svg>
